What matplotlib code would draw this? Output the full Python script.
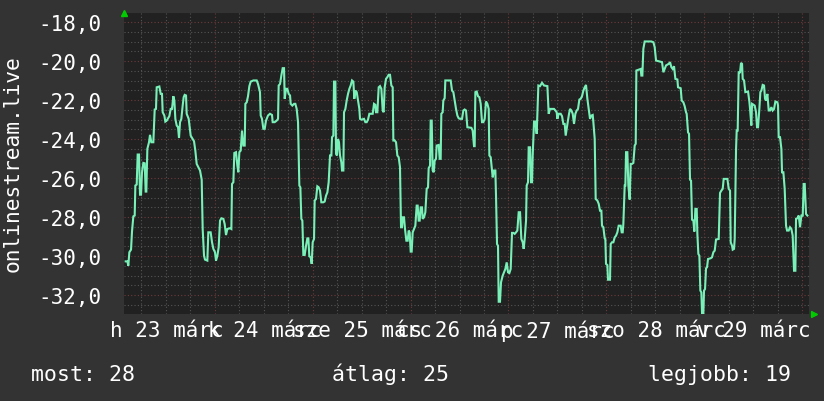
#!/usr/bin/env python3
"""
Weekly temperature graph of onlinestream.live (rrdtool look-alike)
"""
import matplotlib
matplotlib.use('Agg')
import matplotlib.pyplot as plt
import matplotlib.transforms as mtrans

# hours since the left edge of the graph
hours = [
    0.53, 0.94, 1.18, 1.43, 1.84, 2.08, 2.41, 2.74, 2.90, 3.23, 3.47, 3.80, 4.04, 4.29, 4.53, 4.86,
    5.19, 5.43, 5.59, 5.84, 6.25, 6.49, 6.82, 7.31, 7.64, 7.96, 8.13, 8.78, 9.11, 9.43, 9.60, 10.01,
    10.25, 10.58, 11.23, 11.56, 11.89, 12.21, 12.46, 12.70, 13.03, 13.36, 13.60, 13.85, 14.17, 14.50,
    14.74, 14.99, 15.32, 15.48, 15.97, 16.46, 16.95, 17.28, 17.60, 17.93, 18.34, 18.75, 19.16, 19.40,
    19.73, 19.97, 20.54, 20.79, 21.36, 21.69, 22.02, 22.42, 22.67, 23.00, 23.32, 23.65, 23.98, 24.47,
    24.79, 25.12, 25.45, 26.10, 26.43, 26.59, 26.92, 27.16, 27.57, 27.90, 28.14, 28.39, 28.72, 29.04,
    29.37, 29.70, 29.86, 30.19, 30.51, 30.84, 31.17, 31.82, 32.64, 32.96, 33.45,
    33.62, 33.94, 34.27, 34.60, 34.92, 35.41, 35.90, 36.39, 36.56, 37.05, 37.54, 37.87, 38.03, 38.36,
    38.68, 39.01, 39.34, 39.50, 39.83, 40.15, 40.48, 40.81, 40.97, 41.38, 41.79, 42.11, 42.44, 42.77,
    43.09, 43.34, 43.58, 43.83, 44.07, 44.40, 44.73, 45.05, 45.30, 45.54, 45.87, 46.12, 46.36, 46.69,
    46.85, 47.18, 47.50, 47.83, 48.16, 48.48, 48.97, 49.30, 49.63, 49.96, 50.28, 50.61, 50.94, 51.10,
    51.43, 51.59, 51.92, 52.08, 52.32, 52.57, 52.81, 53.06, 53.39, 53.55, 53.88, 54.04, 54.37, 54.69,
    55.02, 55.35, 55.67, 56.00, 56.33, 56.57, 56.82, 57.15, 57.47, 57.80, 57.96, 58.29, 58.94, 59.27,
    59.60, 59.92, 60.25, 61.07, 61.39, 61.72, 61.88, 62.21, 62.54, 62.86, 63.19, 63.52, 63.76, 64.01,
    64.33, 64.66, 64.99, 65.31, 65.64, 65.97, 66.13, 66.46, 66.79, 67.11, 67.44,
    67.76, 68.01, 68.25, 68.42, 68.74, 68.99, 69.32, 69.64, 69.89, 70.13, 70.38, 70.62, 70.87, 71.20,
    71.52, 71.85, 72.09, 72.34, 72.58, 72.83, 73.16, 73.32, 73.65, 73.97, 74.30, 74.63, 74.79, 75.12,
    75.28, 75.53, 75.77, 76.02, 76.26, 76.59, 76.75, 77.24, 77.49, 77.73, 77.89, 78.22, 78.38, 78.71,
    78.87, 80.18, 80.51, 80.84, 81.16, 81.49, 81.82, 82.14, 82.47, 82.96, 83.29, 83.61, 83.94, 84.27,
    85.25, 85.57, 85.90, 86.06, 86.23, 86.56, 86.88, 87.21, 87.54, 87.86, 88.19, 88.52, 88.84, 89.17,
    89.50, 89.66, 89.99, 90.23, 90.48, 90.80, 91.13, 91.29, 91.54, 91.78, 91.95, 92.27, 92.52, 92.93,
    93.25, 93.58, 93.91, 94.23, 94.56, 94.89, 95.21, 95.54, 95.87, 96.20, 96.52, 96.85, 97.18, 97.50,
    97.83, 98.07, 98.32, 98.65, 98.81, 99.14, 99.30, 99.63, 99.87, 100.12, 100.28, 100.61, 100.93, 101.26,
    101.67, 102.08, 102.57, 103.06, 103.88, 104.20, 104.53, 105.51, 105.84, 106.16, 106.33, 106.65,
    107.14, 107.47, 107.80, 108.12, 108.37, 108.61, 108.86, 109.19, 109.43, 109.76, 110.09, 110.41,
    110.74, 111.07, 111.39, 111.72, 112.05, 112.37, 112.70, 113.03, 113.35, 113.68, 114.01, 114.33,
    114.66, 114.99, 115.15, 115.48, 115.72, 116.13, 116.46, 116.78, 117.11, 117.27, 117.60, 117.93,
    118.09, 118.25, 118.58, 118.74, 119.23, 119.40, 119.72, 120.05, 120.38, 120.71, 121.03, 121.36,
    121.85, 122.09, 122.34, 122.50, 122.83, 122.99, 123.16, 123.48, 123.73, 124.05, 124.30, 124.63,
    124.95, 125.28, 125.53, 125.69, 126.10, 126.75, 126.91, 127.16, 127.40, 127.73, 129.36, 129.86,
    130.18, 130.51, 131.49, 131.98, 132.31, 132.63, 132.96, 133.61, 133.94, 134.27, 134.59, 134.92,
    135.25, 135.74, 135.90, 136.55, 136.80, 137.21, 137.53, 137.86, 138.02, 138.35, 138.60, 138.84,
    139.09, 139.33, 139.66, 139.90, 140.15, 140.48, 140.64, 140.88, 141.13, 141.37, 141.62, 141.78,
    142.11, 142.27, 142.52, 142.76, 143.01, 143.25, 143.91, 144.23, 144.56, 144.89, 145.21, 145.87,
    146.19, 146.52, 146.85, 147.09, 148.00, 148.32, 148.65, 148.81, 149.14, 149.30, 149.63, 149.79,
    150.12, 150.28, 150.52, 150.77, 151.10, 151.34, 151.59, 151.75, 152.08, 152.40, 153.06, 153.38,
    153.55, 153.87, 154.04, 154.69, 155.02, 155.26, 155.51, 155.83, 156.08, 156.33, 156.65, 156.98,
    157.22, 157.47, 157.80, 158.12, 158.45, 158.78, 159.10, 159.43, 159.76, 160.25, 160.41, 160.57,
    160.90, 161.23, 161.39, 161.72, 162.04, 162.37, 162.62, 163.02, 163.35, 163.68, 164.00, 164.33,
    164.66, 164.82, 165.15, 165.48, 165.80, 166.13, 166.46, 166.70, 166.95, 167.27, 167.60,
]

temps = [
    -30.27, -30.27, -30.49, -29.80, -29.67, -28.74, -27.96, -27.92, -26.38, -26.33, -24.79, -24.79,
    -26.85, -26.85, -25.70, -25.22, -25.24, -26.69, -26.69, -24.50, -24.16, -23.78, -24.16, -24.16,
    -22.48, -22.45, -21.34, -21.30, -21.68, -21.68, -22.62, -22.79, -23.10, -23.05, -22.82, -22.45,
    -22.45, -21.80, -22.02, -22.96, -23.30, -23.39, -23.94, -23.13, -22.96, -22.28, -21.85, -21.73,
    -21.76, -22.70, -22.96, -23.82, -23.99, -24.11, -24.59, -25.27, -25.44, -25.61, -26.08, -28.61,
    -29.98, -30.18, -30.23, -28.78, -28.78, -29.29, -29.63, -29.80, -30.23, -29.98, -29.55, -28.18,
    -28.06, -28.09, -28.35, -28.92, -28.61, -28.57, -28.61, -26.30, -26.21, -24.71, -24.67, -25.36,
    -25.70, -24.67, -24.59, -23.56, -24.33, -24.33, -22.19, -22.11, -21.80, -21.28, -21.05, -20.99,
    -20.99, -21.17, -21.59,
    -22.79, -22.96, -23.47, -23.47, -23.05, -22.79, -22.70, -22.76, -23.13, -23.13, -23.05, -22.96,
    -21.25, -21.17, -20.74, -20.36, -20.36, -21.93, -21.42, -21.42, -21.68, -21.76, -22.19, -22.28,
    -22.19, -22.19, -22.45, -23.13, -26.38, -26.47, -28.09, -28.18, -29.94, -29.94, -29.47, -29.09,
    -29.09, -30.01, -30.06, -30.40, -29.29, -29.12, -27.15, -27.07, -26.42, -26.47, -26.64, -27.24,
    -27.24, -27.20, -26.90, -26.73, -26.21, -24.84, -24.84, -23.90, -23.82, -21.05, -21.05, -24.76,
    -24.84, -23.99, -24.16, -24.84, -25.19, -25.61, -25.61, -22.62, -22.45, -22.02, -21.68, -21.42,
    -21.25, -20.99, -21.05, -21.93, -21.51, -21.59, -22.02, -22.45, -22.96, -23.00, -22.96, -23.13,
    -23.13, -23.00, -22.70, -22.70, -22.19, -22.24, -22.62, -22.62, -21.34, -21.28, -21.42, -22.53,
    -22.62, -21.34, -20.91, -20.82, -20.70, -20.70, -21.25, -21.34, -24.07, -24.07, -24.16, -24.84,
    -24.93,
    -25.44, -28.52, -28.52, -28.01, -28.01, -28.61, -29.21, -29.21, -28.69, -28.78, -29.77, -29.77,
    -28.78, -28.61, -28.44, -27.41, -27.41, -28.18, -28.18, -27.50, -27.50, -28.09, -28.01, -27.75,
    -26.55, -26.47, -25.49, -25.36, -23.05, -23.05, -25.61, -25.70, -25.10, -25.01, -24.33, -24.30,
    -25.01, -25.01, -22.70, -22.62, -22.02, -21.90, -20.99, -20.99, -21.51, -21.59, -22.02, -22.45,
    -22.79, -22.93, -22.96, -22.96, -22.53, -22.48, -22.53, -23.39, -23.42, -23.56, -24.36, -24.36,
    -21.59, -21.56, -21.80, -21.85, -22.19, -23.13, -23.13, -22.96, -22.07, -22.19, -22.45, -24.84,
    -24.93, -25.44, -25.96, -25.61, -25.61, -26.90, -29.38, -29.47, -32.34, -32.34, -31.34, -31.00,
    -30.83, -30.66, -30.32, -30.83, -30.87, -30.66, -28.81, -28.81, -28.86, -28.78, -28.69, -27.75,
    -27.75, -29.12, -29.29, -29.63, -29.12, -28.18, -26.38, -26.21, -24.42, -24.42, -26.21, -26.21,
    -24.84, -23.10, -23.10, -23.73,
    -21.25, -21.28, -21.11, -21.25, -21.28, -22.70, -22.45, -22.45, -22.53, -22.62, -22.96, -22.70,
    -22.70, -22.82, -23.22, -23.22, -23.82, -23.47, -23.13, -22.70, -22.45, -22.53, -22.70, -23.22,
    -22.70, -22.53, -22.45, -21.97, -21.93, -21.80, -21.51, -21.34, -21.22, -21.93, -22.45, -22.96,
    -22.79, -22.76, -23.13, -23.99, -27.07, -27.15, -27.32, -27.67, -27.67, -28.44, -28.52, -29.09,
    -29.12, -30.40, -30.46, -31.21, -31.21, -29.38, -29.29, -29.29, -29.04, -28.95, -28.78, -28.44,
    -28.44, -28.78, -28.78, -28.35, -26.38, -26.38, -24.67, -24.67, -26.38, -27.10, -25.27, -25.27,
    -25.22, -24.33, -24.24, -20.48, -20.45, -20.40, -20.74, -20.74, -19.37, -18.99, -18.99, -19.03,
    -19.28, -19.97, -20.02, -20.05, -20.57, -20.40, -20.22, -20.14, -20.05, -20.31, -20.40, -20.26,
    -20.91, -20.94, -21.34, -21.39, -22.02, -22.11, -22.31, -22.62, -22.70, -23.65, -23.73, -26.08,
    -26.13, -28.13, -28.18, -28.74, -27.58, -27.58, -28.86, -29.89, -29.98, -31.77, -31.86, -32.92,
    -32.92, -31.77, -31.69, -30.63, -30.57, -30.15, -30.11, -30.06, -29.80, -29.72, -29.15, -29.12,
    -26.76, -26.64, -26.55, -26.04, -26.04, -26.55, -26.64, -29.29, -29.47, -29.67, -29.63, -29.12,
    -24.50, -23.56, -23.56, -20.57, -20.57, -20.09, -20.14, -20.91, -20.99, -21.59, -21.56, -22.07,
    -22.45, -23.30, -22.19, -22.28, -22.62, -23.39, -23.39, -22.45, -21.59, -21.51, -21.22, -21.25,
    -21.93, -22.02, -21.68, -22.53, -22.53, -22.36, -22.53, -22.45, -22.07, -22.11, -22.28, -23.90,
    -23.90, -24.50, -25.70, -25.70, -26.55, -28.44, -28.69, -28.69, -28.52, -28.61, -28.95, -30.75,
    -30.75, -28.09, -28.06, -27.92, -28.52, -27.92, -27.92, -26.30, -26.30, -27.84, -27.92,
]

# first midnight after the left edge (hours), day labels centred at noon
FIRST_MIDNIGHT = 22.35
day_labels = ["h 23 márc", "k 24 márc", "sze 25 márc", "cs 26 márc",
              "p 27 márc", "szo 28 márc", "v 29 márc"]
y_ticks = [-18, -20, -22, -24, -26, -28, -30, -32]
legend_items = [("most: 28", 0.038), ("átlag: 25", 0.403), ("legjobb: 19", 0.787)]

BG = '#333333'
PLOT_BG = '#212121'
LINE = '#78f0b8'
MINOR = '#555555'
MAJOR = '#6e3a3a'
FONT = 'DejaVu Sans Mono'

fig = plt.figure(figsize=(8.24, 4.02), dpi=100, facecolor=BG)
ax = fig.add_axes([0.1499, 0.2164, 0.8319, 0.7488])
ax.set_facecolor(PLOT_BG)
ax.set_xlim(0, 168)
ax.set_ylim(-32.97, -17.53)

# grid: minor every 0.5 deg / 6 hours, major every 2 deg / midnight
dots = (0, (1, 2))
y = -33.0
while y <= -17.5:
    major = abs(y - round(y)) < 1e-6 and int(round(y)) % 2 == 0
    ax.axhline(y, color=MAJOR if major else MINOR, lw=0.8, ls=dots, zorder=1)
    y += 0.5
h = FIRST_MIDNIGHT - 24
while h <= 168:
    for k in range(4):
        xv = h + 6 * k
        if 0 < xv < 168:
            ax.axvline(xv, color=MAJOR if k == 0 else MINOR, lw=0.8, ls=dots, zorder=1)
    h += 24

ax.plot(hours, temps, color=LINE, lw=1.5, zorder=3, solid_joinstyle='miter')

for s in ax.spines.values():
    s.set_visible(False)
ax.set_xticks([])
ax.set_yticks(y_ticks)
ax.set_yticklabels([f"{v:.1f}".replace('.', ',') for v in y_ticks],
                   fontfamily=FONT, fontsize=15, color='white')
ax.tick_params(axis='y', length=0, pad=16)

trans = mtrans.blended_transform_factory(ax.transData, fig.transFigure)
for i, lab in enumerate(day_labels):
    ax.text(FIRST_MIDNIGHT - 11.8 + 24 * i, 0.177, lab, transform=trans, ha='center', va='center',
            fontfamily=FONT, fontsize=15, color='white', clip_on=False)

fig.text(0.015, 0.594, "onlinestream.live", rotation=90, ha='center', va='center',
         fontfamily=FONT, fontsize=15.3, color='white')

for txt, xpos in legend_items:
    fig.text(xpos, 0.068, txt, ha='left', va='center', fontfamily=FONT, fontsize=15.5, color='white')

# rrdtool axis arrows
ax.plot([0], [1.0], marker='^', color='#00cc00', ms=4, transform=ax.transAxes, clip_on=False)
ax.plot([1.0075], [0.0], marker='>', color='#00cc00', ms=4, transform=ax.transAxes, clip_on=False)

fig.savefig('out.png', dpi=100, facecolor=BG)
